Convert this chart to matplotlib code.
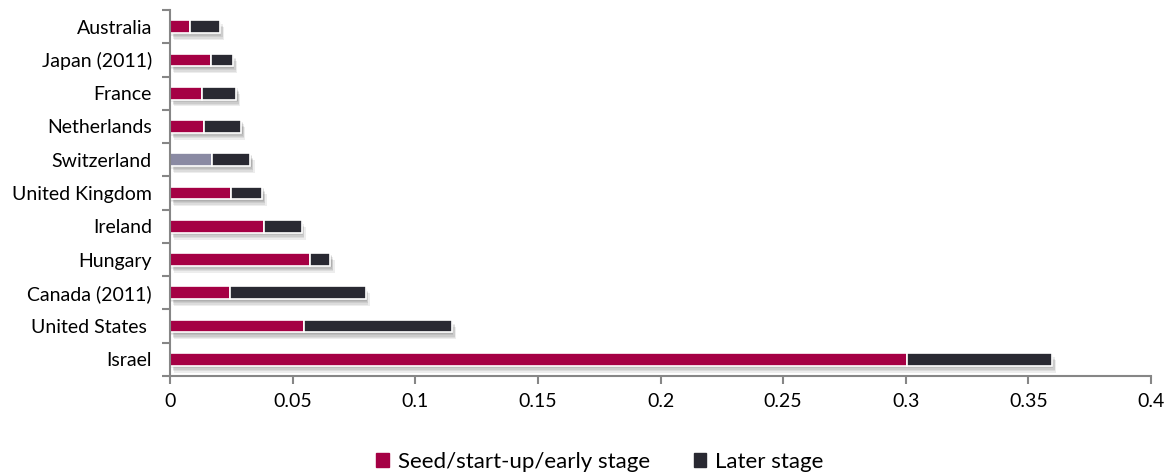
import numpy as np
import matplotlib.pyplot as plt
import matplotlib.patheffects as pe
from matplotlib.patches import Patch

countries = ['Australia', 'Japan (2011)', 'France', 'Netherlands', 'Switzerland',
             'United Kingdom', 'Ireland', 'Hungary', 'Canada (2011)', 'United States ', 'Israel']
seed = [0.0082, 0.0166, 0.0130, 0.0137, 0.0170, 0.0249, 0.0385, 0.0570, 0.0245, 0.0548, 0.3006]
later = [0.0122, 0.0091, 0.0140, 0.0153, 0.0158, 0.0128, 0.0152, 0.0084, 0.0553, 0.0601, 0.0590]

plt.rcParams['font.family'] = ['Lato', 'DejaVu Sans']

seed_col = '#a50044'
later_col = '#292932'
grey_col = '#8a8aa3'
axis_col = '#868686'

fig = plt.figure(figsize=(11.72, 4.75), dpi=100)
ax = fig.add_axes([170 / 1172, 1 - 376 / 475, 981 / 1172, 366 / 475])

y = np.arange(len(countries))[::-1]
# soft drop shadow: a few faint offset copies
shadow = [pe.SimplePatchShadow(offset=(dx, -dy), shadow_rgbFace='#000000', alpha=0.07)
          for dx, dy in [(1, 1), (1, 2), (2, 3), (2, 4), (3, 5)]] + [pe.Normal()]

seed_colors = [grey_col if c == 'Switzerland' else seed_col for c in countries]
b1 = ax.barh(y, seed, height=0.38, color=seed_colors, edgecolor='white', linewidth=1.2)
b2 = ax.barh(y, later, left=seed, height=0.38, color=later_col, edgecolor='white', linewidth=1.2)
for bar in list(b1) + list(b2):
    bar.set_path_effects(shadow)

ax.set_xlim(0, 0.4)
ax.set_ylim(-0.5, len(countries) - 0.5)
ax.set_xticks(np.arange(0, 0.41, 0.05))
ax.set_xticklabels(['0', '0.05', '0.1', '0.15', '0.2', '0.25', '0.3', '0.35', '0.4'])
ax.set_yticks(y)
ax.set_yticklabels(countries)
ax.set_yticks(np.arange(-0.5, len(countries), 1), minor=True)

for s in ['top', 'right']:
    ax.spines[s].set_visible(False)
for s in ['left', 'bottom']:
    ax.spines[s].set_color(axis_col)
    ax.spines[s].set_linewidth(1.5)

ax.tick_params(axis='x', colors=axis_col, length=6, width=1.5, labelsize=14, labelcolor='black', pad=6)
ax.tick_params(axis='y', which='major', length=0, labelsize=14, labelcolor='black', pad=13)
ax.tick_params(axis='y', which='minor', colors=axis_col, length=6, width=1.5)

handles = [Patch(color=seed_col, label='Seed/start-up/early stage'),
           Patch(color=later_col, label='Later stage')]
fig.legend(handles=handles, loc='center', bbox_to_anchor=(600 / 1172, 1 - 462 / 475), ncol=2,
           frameon=False, fontsize=16, handlelength=0.55, handleheight=0.55,
           handletextpad=0.4, columnspacing=2.0)

fig.savefig('out.png', dpi=100)
